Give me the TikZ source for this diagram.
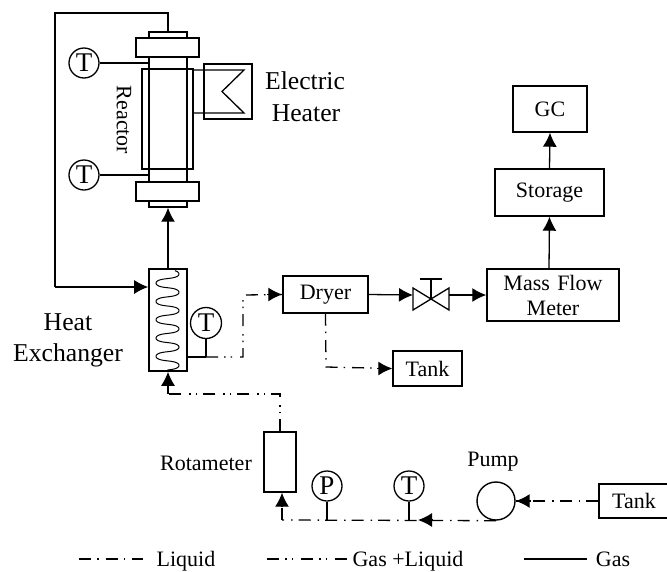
\documentclass[tikz,border=0pt]{standalone}
\usepackage{fontspec}
\setmainfont{Liberation Serif}
\usetikzlibrary{arrows.meta}
\usetikzlibrary{calc}

\tikzset{
  unit box/.style={draw,line width=1.4pt,inner sep=0pt,text width=#1,align=center},
  part/.style={draw,line width=1.4pt,inner sep=0pt},
  gauge/.style={draw,circle,line width=1.3pt,minimum size=30pt,inner sep=0pt,font=\fontsize{27}{27}\selectfont},
  label text/.style={inner sep=0pt,align=center},
  big text/.style={label text,font=\fontsize{25.7}{31}\selectfont},
  tip/.style={-{Latex[length=14pt,width=14pt]}},
  liquid/.style={line width=1.3pt,dash pattern=on 12pt off 6pt on 1.5pt off 7pt},
  mixed/.style={line width=1.3pt,dash pattern=on 12pt off 6pt on 1.5pt off 5pt on 1.5pt off 8pt}
}

\begin{document}
\begin{tikzpicture}[x=1pt,y=-1pt,font=\fontsize{22}{25}\selectfont,line width=1.3pt]
      \useasboundingbox (0,0) rectangle (667,571);

      % reactor
      \draw[line width=1.4pt] (149,32) rectangle (187,38);
      \node[part,minimum width=63pt,minimum height=19pt] (flangetop) at (167.5,47.5) {};
      \draw[line width=1.4pt] (149,57) rectangle (187,182);
      \node[part,line width=1.2pt,minimum width=51pt,minimum height=100pt] (jacket) at (167.5,119) {};
      \node[part,minimum width=63pt,minimum height=19pt] (flangelow) at (167.5,191.5) {};
      \node[part,minimum width=38pt,minimum height=6pt] (caplow) at (168,204) {};
      \node[label text,rotate=-90] (reactor) at (124,120) {Reactor};
      \node[gauge] (ttop) at (84,63) {T};
      \node[gauge] (tlow) at (84,175) {T};
      \coordinate (ttube) at (149,63);
      \coordinate (ltube) at (149,175);
      \draw (ttop) -- (ttube);
      \draw (tlow) -- (ltube);

      % heater
      \node[part,line width=1.3pt,minimum width=48pt,minimum height=55pt] (heater) at (228,91.5) {};
      \draw (193,70) -- (244,70) -- (222,91.5) -- (244,113) -- (193,113);
      \node[big text] (electric) at (305,81) {Electric};
      \node[big text] (heatertext) at (306,113) {Heater};

      % heat exchanger
      \node[part,line width=1.6pt,minimum width=38pt,minimum height=102pt] (exchanger) at (168,320) {};
      \draw[line width=1pt] plot[smooth,domain=-50:1890,samples=220] ({167.5+11.5*cos(\x)},{274+.0508*\x+.8*sin(2*\x)});
      \node[big text] (heat) at (68,322) {Heat};
      \node[big text] (exchangertext) at (68,355) {Exchanger};
      \node[gauge,minimum size=31pt] (tout) at (206,323) {T};
      \coordinate (texit) at (187,357);
      \coordinate (tjoin) at (206,357);
      \draw[line width=2.2pt] (texit) -- (tjoin);
      \draw (tout) -- (tjoin);
      \coordinate (ret) at (55,287);
      \coordinate (retup) at (55,13);
      \coordinate (rettop) at (168,13);
      \coordinate (capt) at (168,32);
      \draw (capt) -- (rettop) -- (retup) -- (ret);
      \path[tip] (ret) edge ($(exchanger.west)+(0,-33)$);
      \path[tip] (exchanger.north) edge (caplow.south);

      % dryer line
      \node[unit box=85pt,minimum height=37pt] (dryer) at (325.5,294.5) {Dryer};
      \node[unit box=69pt,minimum height=35pt] (tankdry) at (427.5,368.5) {Tank};
      \coordinate (c1) at (243,357);
      \coordinate (c2) at (243,295);
      \coordinate (c3) at (326,367);
      \draw[mixed] (tjoin) -- (c1) -- (c2) -- (dryer.west);
      \path[tip] ($(dryer.west)+(-15,0)$) edge (dryer.west);
      \draw[liquid] (dryer.south) -- (c3) -- (tankdry.west);
      \path[tip] ($(tankdry.west)+(-15,0)$) edge (tankdry.west);

      % valve
      \coordinate (vleft) at (413,299);
      \coordinate (vright) at (449,299);
      \coordinate (vmid) at (431,299);
      \coordinate (vstem) at (431,279);
      \draw (413,288) -- (449,310) -- (449,288) -- (413,310) -- cycle;
      \draw (vmid) -- (vstem);
      \draw (420,279) -- (442,279);

      % gas train
      \node[unit box=132pt,minimum height=52pt] (meter) at (553,295) {Mass Flow\\Meter};
      \node[unit box=109pt,minimum height=47pt] (storage) at (549.5,192.5) {Storage};
      \node[unit box=74pt,minimum height=46pt] (gc) at (550,109) {GC};
      \path[tip] (dryer.east) edge (413,295);
      \path[tip] (449,295) edge (meter.west |- 449,295);
      \coordinate (mtop) at (549,269);
      \path[tip] (mtop) edge (storage.south);
      \path[tip] (storage.north) edge (gc.south);

      % feed
      \node[part,minimum width=32pt,minimum height=60pt] (rotameter) at (280,462) {};
      \node[label text] (rototext) at (206,463) {Rotameter};
      \node[gauge] (pgauge) at (327,486) {P};
      \node[gauge] (tgauge) at (409,486) {T};
      \node[draw,circle,line width=1.4pt,minimum size=38pt,inner sep=0pt] (pump) at (496,501) {};
      \node[label text] (pumptext) at (493,462) {Pump};
      \node[part,minimum width=70pt,minimum height=34pt] (tankfeed) at (634,501) {Tank};
      \coordinate (mix) at (168,394);
      \coordinate (mixr) at (280,394);
      \coordinate (pline) at (327,520);
      \coordinate (tline) at (409,520);
      \coordinate (rotin) at (282,520);
      \draw[liquid] (pump.south) -- (rotin);
      \draw (pgauge) -- (pline);
      \draw (tgauge) -- (tline);
      \path[tip] ($(rotin)+(0,-13)$) edge (rotin |- rotameter.south);
      \draw[liquid] (rotin) -- ($(rotin)+(0,-14)$);
      \path[tip] (433,520) edge (418,520);
      \draw[liquid] (tankfeed.west) -- (pump.east);
      \path[tip] ($(pump.east)+(15,0)$) edge (pump.east);
      \draw[mixed] (rotameter.north) -- (mixr) -- (mix) -- ($(mix)+(0,-10)$);
      \path[tip] (mix) edge (exchanger.south);

      % legend
      \coordinate (l1) at (79,559);
      \coordinate (l2) at (143,559);
      \coordinate (l3) at (267,559);
      \coordinate (l4) at (350,559);
      \coordinate (l5) at (524,559);
      \coordinate (l6) at (587,559);
      \draw[liquid] (l1) -- (l2);
      \draw[mixed] (l3) -- (l4);
      \draw (l5) -- (l6);
      \node[label text,anchor=base] (liquidtext) at (186,566) {Liquid};
      \node[label text,anchor=base] (mixedtext) at (408,566) {Gas +Liquid};
      \node[label text,anchor=base] (gastext) at (613,566) {Gas};
    \end{tikzpicture}
\end{document}
